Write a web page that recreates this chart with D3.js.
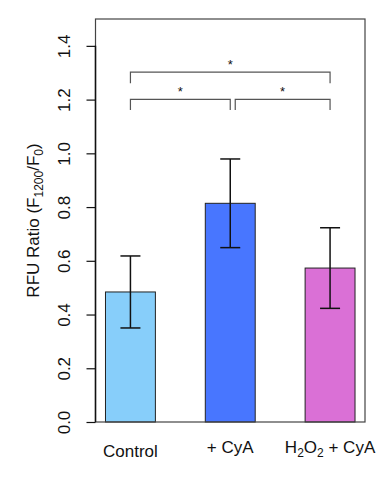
<!DOCTYPE html>
<html>
<head>
<meta charset="utf-8">
<script src="https://cdn.jsdelivr.net/npm/d3@7"></script>
<style>
  body { margin: 0; background: #fff; }
  svg { display: block; font-family: "Liberation Sans", Arial, sans-serif; }
</style>
</head>
<body>
<div id="chart"></div>
<script>
// data
var groups = ["Control", "+ CyA", "H2O2 + CyA"];
var means = [0.484, 0.814, 0.573];
var errs = [0.134, 0.165, 0.150];
var barColors = ["#87CEFA", "#4876FF", "#DA70D6"];
var yTicks = [0, 0.2, 0.4, 0.6, 0.8, 1.0, 1.2, 1.4];

// significance brackets (x in bar units, y in data units)
var bracketX1 = [1.5, 1.5, 3.6];
var bracketX2 = [5.5, 3.5, 5.5];
var bracketY = [1.302, 1.201, 1.201];
var bracketDrop = [0.041, 0.04, 0.04];
var starLabels = ["*", "*", "*"];

var width = 384, height = 480;
var margin = {top: 19, right: 19, bottom: 58, left: 95.5};

var svg = d3.select("#chart").append("svg")
    .attr("width", width)
    .attr("height", height);

// R barplot: bars at [1,2],[3,4],[5,6], xlim extended by 4%
var x = d3.scaleLinear()
    .domain([0.8, 6.2])
    .range([margin.left, width - margin.right]);

var y = d3.scaleLinear()
    .domain([0, 1.5])
    .range([height - margin.bottom, margin.top]);

// bars
svg.selectAll("rect.bar")
    .data(means)
    .enter()
    .append("rect")
    .attr("class", "bar")
    .attr("x", function (d, i) { return x(1 + 2 * i); })
    .attr("y", function (d) { return y(d); })
    .attr("width", function (d, i) { return x(2 + 2 * i) - x(1 + 2 * i); })
    .attr("height", function (d) { return y(0) - y(d); })
    .style("fill", function (d, i) { return barColors[i]; })
    .style("stroke", "#222")
    .style("stroke-width", 1);

// error bars
var eb = svg.selectAll("g.err")
    .data(means)
    .enter()
    .append("g")
    .attr("class", "err")
    .style("stroke", "#111")
    .style("stroke-width", 1.5);

eb.append("line")
    .attr("x1", function (d, i) { return x(1.5 + 2 * i); })
    .attr("x2", function (d, i) { return x(1.5 + 2 * i); })
    .attr("y1", function (d, i) { return y(d - errs[i]); })
    .attr("y2", function (d, i) { return y(d + errs[i]); });

[-1, 1].forEach(function (s) {
    eb.append("line")
        .attr("x1", function (d, i) { return x(1.5 + 2 * i) - 10; })
        .attr("x2", function (d, i) { return x(1.5 + 2 * i) + 10; })
        .attr("y1", function (d, i) { return y(d + s * errs[i]); })
        .attr("y2", function (d, i) { return y(d + s * errs[i]); });
});

// plot box
svg.append("rect")
    .attr("x", x(0.8))
    .attr("y", y(1.5))
    .attr("width", x(6.2) - x(0.8))
    .attr("height", y(0) - y(1.5))
    .style("fill", "none")
    .style("stroke", "#444")
    .style("stroke-width", 1.2);

// y axis
var yAxis = svg.append("g")
    .attr("transform", "translate(" + x(0.8) + ",0)")
    .call(d3.axisLeft(y).tickValues(yTicks).tickSize(9).tickPadding(0).tickFormat(d3.format(".1f")));
yAxis.select(".domain").remove();
yAxis.selectAll("line").style("stroke", "#111").style("stroke-width", 1.2);
yAxis.append("line")
    .attr("y1", y(0)).attr("y2", y(1.4))
    .style("stroke", "#111").style("stroke-width", 1.5);
yAxis.selectAll(".tick text")
    .attr("transform", "translate(-31,0) rotate(-90)")
    .attr("x", 0).attr("y", 0).attr("dy", "0.35em")
    .style("text-anchor", "middle")
    .style("font-size", "17px")
    .style("font-family", "Liberation Sans, Arial, sans-serif")
    .style("fill", "#111");

// y label with subscripts
var ylab = svg.append("text")
    .attr("transform", "translate(39," + (y(0) + y(1.5)) / 2 + ") rotate(-90)")
    .style("text-anchor", "middle")
    .style("font-size", "17px")
    .style("fill", "#111");
ylab.append("tspan").text("RFU Ratio (F");
ylab.append("tspan").attr("dy", 4).style("font-size", "12px").text("1200");
ylab.append("tspan").attr("dy", -4).text("/F");
ylab.append("tspan").attr("dy", 4).style("font-size", "12px").text("0");
ylab.append("tspan").attr("dy", -4).text(")");

// x labels
var xlab = svg.selectAll("text.xlab")
    .data(groups)
    .enter()
    .append("text")
    .attr("class", "xlab")
    .attr("x", function (d, i) { return x(1.5 + 2 * i); })
    .attr("y", function (d, i) { return i === 0 ? 457 : 453; })
    .style("text-anchor", "middle")
    .style("font-size", "17px")
    .style("fill", "#111");

xlab.each(function (d) {
    var t = d3.select(this);
    if (d.indexOf("H2O2") === 0) {
        t.append("tspan").text("H");
        t.append("tspan").attr("dy", 4).style("font-size", "12px").text("2");
        t.append("tspan").attr("dy", -4).text("O");
        t.append("tspan").attr("dy", 4).style("font-size", "12px").text("2");
        t.append("tspan").attr("dy", -4).text(d.slice(4));
    } else {
        t.text(d);
    }
});

// significance brackets
var br = svg.selectAll("g.bracket")
    .data(bracketY)
    .enter()
    .append("g")
    .attr("class", "bracket")
    .style("stroke", "#555")
    .style("stroke-width", 1.2)
    .style("fill", "none");

br.append("path")
    .attr("d", function (d, i) {
        return "M" + x(bracketX1[i]) + "," + y(d - bracketDrop[i]) +
            "V" + y(d) + "H" + x(bracketX2[i]) + "V" + y(d - bracketDrop[i]);
    });

br.append("text")
    .attr("x", function (d, i) { return (x(bracketX1[i]) + x(bracketX2[i])) / 2; })
    .attr("y", function (d) { return y(d) - 3; })
    .style("stroke", "none")
    .style("fill", "#111")
    .style("text-anchor", "middle")
    .style("font-size", "13px")
    .text(function (d, i) { return starLabels[i]; });
</script>
</body>
</html>
